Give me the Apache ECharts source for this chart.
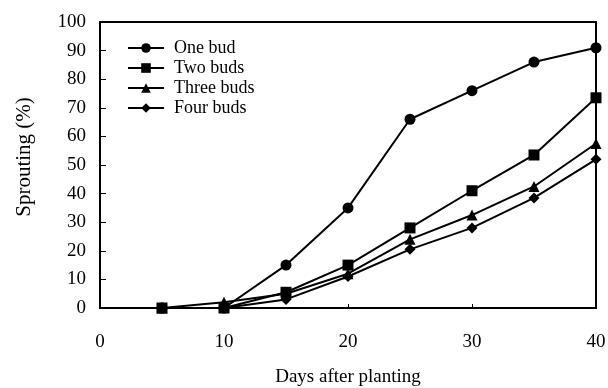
<!DOCTYPE html>
<html><head><meta charset="utf-8">
<script src="https://cdn.jsdelivr.net/npm/echarts@6/dist/echarts.min.js"></script>
<style>html,body{margin:0;padding:0;background:#fff}#c{width:608px;height:388px}</style>
</head><body><div id="c"></div>
<script>
var days = [5, 10, 15, 20, 25, 30, 35, 40];
var oneBud = [0, 0, 15, 35, 66, 76, 86, 91];
var twoBuds = [0, 0, 5.5, 15, 28, 41, 53.5, 73.5];
var threeBuds = [0, 2, 5, 12, 24, 32.5, 42.5, 57.5];
var fourBuds = [0, 0, 3, 11, 20.5, 28, 38.5, 52];
var seriesNames = ['One bud', 'Two buds', 'Three buds', 'Four buds'];
var xTicks = [0, 10, 20, 30, 40];

function pairs(v){ return days.map(function(d,i){ return [d, v[i]]; }); }
var font = 'Liberation Serif';
var symbols = ['circle', 'rect', 'triangle', 'diamond'];
var sizes = [11, 11, 11, 11];
var vals = [oneBud, twoBuds, threeBuds, fourBuds];

var chart = echarts.init(document.getElementById('c'));
chart.setOption({
  animation: false,
  backgroundColor: '#fff',
  grid: {left: 100, right: 12, top: 22, bottom: 80, containLabel: false, outerBoundsMode: 'none',
    show: true, borderColor: '#000', borderWidth: 2, backgroundColor: 'transparent'},
  legend: {
    orient: 'vertical', left: 122, top: 34, itemGap: 2, itemWidth: 36, itemHeight: 12,
    data: seriesNames,
    textStyle: {fontFamily: font, fontSize: 18, color: '#000', padding: [0, 0, 0, 5]}
  },
  xAxis: {
    type: 'value', min: 0, max: 40, interval: 10,
    name: 'Days after planting', nameLocation: 'middle', nameGap: 60,
    nameTextStyle: {fontFamily: font, fontSize: 19, color: '#000'},
    axisLine: {lineStyle: {color: '#000', width: 2}},
    axisTick: {inside: true, length: 4, lineStyle: {color: '#000'}},
    axisLabel: {fontFamily: font, fontSize: 19, color: '#000', margin: 25,
      formatter: function(v){ return xTicks.indexOf(v) >= 0 ? String(v) : ''; }},
    splitLine: {show: false}
  },
  yAxis: {
    type: 'value', min: 0, max: 100, interval: 10,
    name: 'Sprouting (%)', nameLocation: 'middle', nameGap: 65, nameRotate: 90,
    nameTextStyle: {fontFamily: font, fontSize: 21, color: '#000', padding: [0, 0, 0, 16]},
    axisLine: {lineStyle: {color: '#000', width: 2}},
    axisTick: {inside: true, length: 6, lineStyle: {color: '#000'}},
    axisLabel: {fontFamily: font, fontSize: 19, color: '#000', margin: 14},
    splitLine: {show: false}
  },
  series: seriesNames.map(function(n, i){
    return {
      name: n, type: 'line', data: pairs(vals[i]),
      symbol: symbols[i], symbolSize: sizes[i],
      itemStyle: {color: '#000'},
      lineStyle: {color: '#000', width: 2},
      z: 3
    };
  })
});
</script>
</body></html>
